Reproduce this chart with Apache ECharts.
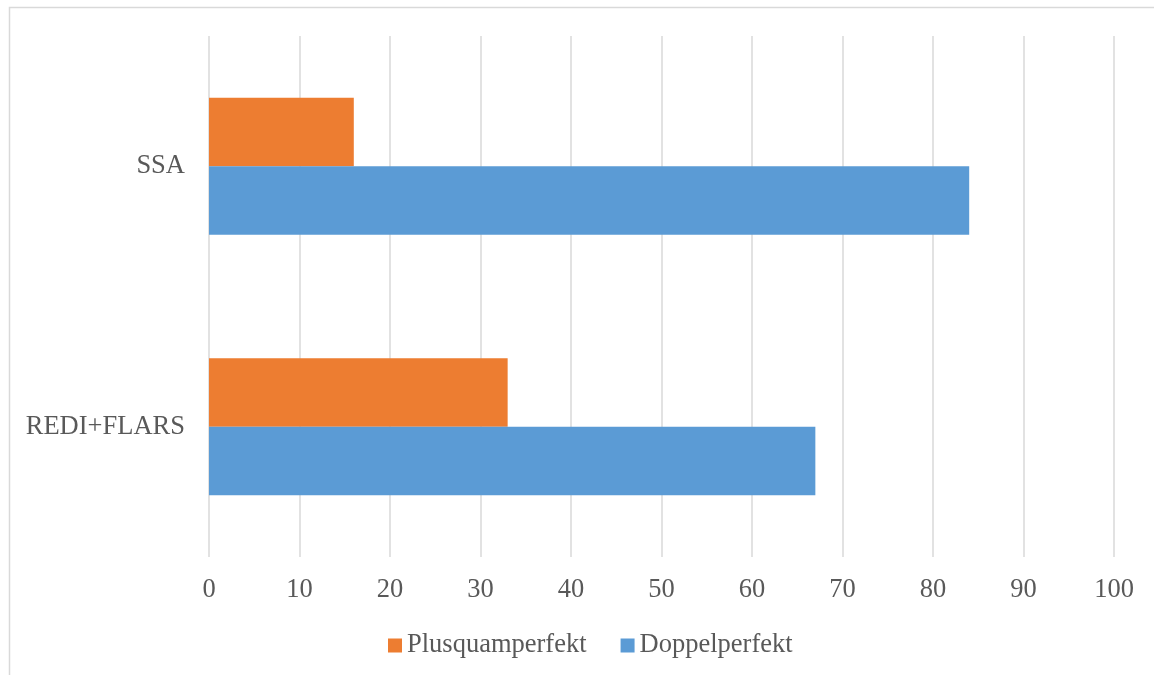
<!DOCTYPE html>
<html>
<head>
<meta charset="utf-8">
<style>
  html, body { margin: 0; padding: 0; background: #ffffff; }
  #chart { width: 1154px; height: 675px; }
</style>
<script src="https://cdn.jsdelivr.net/npm/echarts@6/dist/echarts.min.js"></script>
</head>
<body>
<div id="chart"></div>
<script>
// Categories, bottom to top on the vertical axis
const categories = ['REDI+FLARS', 'SSA'];
// Share of each form per corpus (percent)
const plusquamperfekt = [33, 16];
const doppelperfekt = [67, 84];
const legendNames = ['Plusquamperfekt', 'Doppelperfekt'];

const FONT = '"Liberation Serif", "Times New Roman", serif';
const TEXT = '#595959';
const SIZE = 26.5;

const chart = echarts.init(document.getElementById('chart'));
chart.setOption({
  animation: false,
  backgroundColor: '#ffffff',
  graphic: [{
    type: 'rect',
    shape: { x: 9.5, y: 7.5, width: 1160, height: 700 },
    style: { fill: 'none', stroke: '#d9d9d9', lineWidth: 1.5 },
    silent: true
  }],
  grid: { left: 209, right: 40, top: 36, bottom: 118 },
  legend: {
    data: legendNames,
    bottom: 16,
    left: 388,
    padding: 0,
    itemWidth: 14,
    itemHeight: 14,
    itemGap: 34,
    icon: 'rect',
    textStyle: { fontFamily: FONT, fontSize: SIZE, color: TEXT }
  },
  xAxis: {
    type: 'value',
    min: 0,
    max: 100,
    interval: 10,
    axisLine: { show: false },
    axisTick: { show: false },
    splitLine: { show: true, lineStyle: { color: '#d9d9d9', width: 1.5 } },
    axisLabel: { fontFamily: FONT, fontSize: SIZE, color: TEXT, margin: 20 }
  },
  yAxis: {
    type: 'category',
    data: categories,
    axisLine: { show: false },
    axisTick: { show: false },
    axisLabel: { fontFamily: FONT, fontSize: SIZE, color: TEXT, margin: 24 }
  },
  series: [
    {
      name: 'Plusquamperfekt',
      type: 'bar',
      data: plusquamperfekt,
      barGap: '0%',
      barCategoryGap: '47.4%',
      itemStyle: { color: '#ED7D31' }
    },
    {
      name: 'Doppelperfekt',
      type: 'bar',
      data: doppelperfekt,
      barGap: '0%',
      barCategoryGap: '47.4%',
      itemStyle: { color: '#5B9BD5' }
    }
  ]
});
</script>
</body>
</html>
